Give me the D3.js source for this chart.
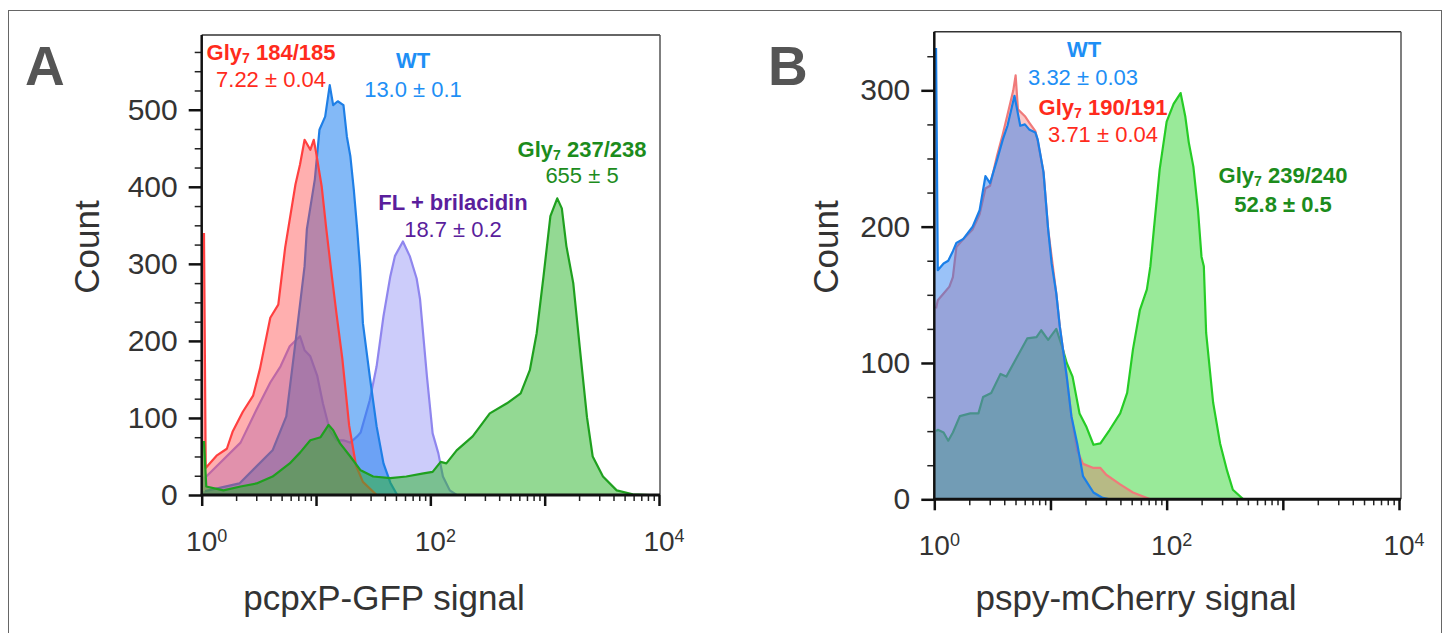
<!DOCTYPE html>
<html>
<head>
<meta charset="utf-8">
<script src="https://cdn.jsdelivr.net/npm/d3@7"></script>
<style>
  body { margin: 0; background: #fff; }
  svg { display: block; font-family: "Liberation Sans", Arial, Helvetica, sans-serif; }
</style>
</head>
<body>
<div class="container"></div>
<script>
// ---- data: log10(signal) and cell counts ----
const aGly184Log = [0.02, 0.035, 0.13, 0.22, 0.27, 0.36, 0.45, 0.51, 0.60, 0.67, 0.73, 0.82, 0.86, 0.90, 0.95, 0.98, 1.00, 1.05, 1.09, 1.14, 1.18, 1.23, 1.29, 1.35, 1.41, 1.53]
const aGly184Count = [340, 35, 51, 60, 82, 108, 129, 164, 230, 247, 321, 403, 429, 461, 448, 461, 445, 400, 345, 282, 234, 177, 90, 38, 17, 0]

const aWtLog = [0.03, 0.33, 0.62, 0.74, 0.83, 0.90, 0.92, 0.99, 1.03, 1.08, 1.12, 1.15, 1.19, 1.24, 1.27, 1.30, 1.33, 1.36, 1.385, 1.41, 1.47, 1.53, 1.59, 1.65, 1.71]
const aWtCount = [5, 15, 58, 102, 210, 297, 345, 410, 474, 491, 532, 506, 511, 506, 465, 440, 397, 345, 295, 223, 154, 89, 41, 16, 0]

const aBrilLog = [0.04, 0.34, 0.48, 0.60, 0.69, 0.77, 0.86, 0.90, 0.95, 1.01, 1.06, 1.12, 1.18, 1.24, 1.30, 1.36, 1.39, 1.47, 1.53, 1.59, 1.65, 1.69, 1.76, 1.82, 1.88, 1.91, 1.97, 2.02, 2.07, 2.11, 2.17, 2.23]
const aBrilCount = [24, 68, 111, 146, 167, 193, 206, 188, 180, 155, 119, 84, 71, 71, 68, 76, 81, 123, 167, 232, 284, 310, 329, 310, 281, 254, 154, 80, 54, 24, 6, 0]

const aGly237Log = [0.02, 0.04, 0.19, 0.34, 0.48, 0.62, 0.77, 0.86, 0.95, 1.04, 1.11, 1.15, 1.21, 1.30, 1.39, 1.50, 1.65, 1.79, 1.94, 2.02, 2.09, 2.14, 2.23, 2.37, 2.52, 2.67, 2.79, 2.87, 2.93, 2.99, 3.05, 3.11, 3.15, 3.19, 3.25, 3.31, 3.37, 3.42, 3.51, 3.63, 3.77, 3.92]
const aGly237Count = [70, 11, 6, 11, 15, 24, 41, 55, 71, 75, 91, 84, 67, 50, 32, 24, 22, 24, 28, 30, 43, 41, 58, 76, 106, 119, 132, 162, 210, 284, 362, 385, 372, 323, 275, 187, 101, 50, 24, 6, 1, 0]

const bWtLog = [0.015, 0.03, 0.08, 0.12, 0.16, 0.19, 0.25, 0.33, 0.39, 0.44, 0.48, 0.54, 0.59, 0.63, 0.69, 0.74, 0.78, 0.82, 0.87, 0.89, 0.94, 0.98, 1.01, 1.05, 1.08, 1.14, 1.18, 1.23, 1.28, 1.37, 1.45, 1.51]
const bWtCount = [331, 168, 173, 175, 182, 188, 191, 200, 212, 237, 232, 249, 264, 274, 296, 274, 275, 271, 269, 264, 240, 198, 173, 151, 127, 90, 61, 41, 17, 5, 1, 0]

const bGly190Log = [0.015, 0.03, 0.08, 0.13, 0.16, 0.19, 0.25, 0.33, 0.39, 0.44, 0.48, 0.54, 0.59, 0.63, 0.68, 0.70, 0.72, 0.78, 0.82, 0.87, 0.89, 0.94, 0.98, 1.05, 1.08, 1.14, 1.18, 1.23, 1.28, 1.37, 1.43, 1.48, 1.60, 1.71, 1.86]
const bGly190Count = [140, 146, 151, 156, 163, 185, 191, 198, 209, 228, 230, 252, 268, 282, 300, 311, 286, 281, 276, 270, 263, 240, 198, 151, 127, 90, 61, 36, 26, 23, 23, 18, 11, 5, 0]

const bGly239Log = [0.015, 0.03, 0.08, 0.12, 0.16, 0.22, 0.31, 0.38, 0.42, 0.49, 0.57, 0.62, 0.71, 0.80, 0.88, 0.92, 0.98, 1.05, 1.10, 1.14, 1.19, 1.25, 1.31, 1.37, 1.43, 1.51, 1.60, 1.66, 1.71, 1.77, 1.83, 1.86, 1.89, 1.94, 2.00, 2.06, 2.12, 2.16, 2.19, 2.23, 2.27, 2.30, 2.32, 2.34, 2.40, 2.46, 2.52, 2.57, 2.66]
const bGly239Count = [50, 51, 49, 43, 49, 61, 63, 63, 75, 78, 92, 90, 104, 118, 119, 124, 117, 125, 112, 100, 90, 63, 53, 40, 41, 51, 63, 78, 110, 139, 154, 171, 198, 242, 277, 290, 298, 281, 262, 244, 212, 178, 171, 122, 71, 41, 21, 7, 0]

const yTicksA = [0, 100, 200, 300, 400, 500]
const yTicksB = [0, 100, 200, 300]
const xTickExps = [0, 2, 4]

// ---- page ----
let width = 1447
let height = 633
let font = '"Liberation Sans", Arial, Helvetica, sans-serif'

let svg = d3.select('.container')
    .append('svg')
    .attr('width', width)
    .attr('height', height)

// outer figure frame
svg.append('rect')
    .attr('x', 8.5).attr('y', 10.5)
    .attr('width', 1433).attr('height', 700)
    .attr('fill', 'none').attr('stroke', '#666').attr('stroke-width', 1)

const red = '#ff2b1c', blue = '#1e8ff5', purple = '#5a1e9c', green = '#1c8c1c'

let panels = [
    {
        id: 'A', left: 201.7, right: 659, boxRight: 660, top: 35, bottom: 495, yMax: 597,
        yTicks: yTicksA, letterX: 25, countX: 99, titleX: 384,
        title: 'pcpxP-GFP signal',
        series: [
            { log: aBrilLog, count: aBrilCount, fill: '#9a9af5', alpha: 0.5, stroke: '#8f86ee' },
            { log: aWtLog, count: aWtCount, fill: '#1e80f0', alpha: 0.55, stroke: '#1f7fe6' },
            { log: aGly184Log, count: aGly184Count, fill: '#ff4040', alpha: 0.42, stroke: '#ff4040' },
            { log: aGly237Log, count: aGly237Count, fill: '#28b428', alpha: 0.5, stroke: '#1fa01f' }
        ],
        labels: [
            { sub: true, text: ['Gly', '7', ' 184/185'], bold: true, color: red, x: 271, y: 60 },
            { text: ['7.22 ± 0.04'], color: red, x: 271, y: 87 },
            { text: ['WT'], bold: true, color: blue, x: 413, y: 68 },
            { text: ['13.0 ± 0.1'], color: blue, x: 413, y: 97 },
            { text: ['FL + brilacidin'], bold: true, color: purple, x: 453, y: 210 },
            { text: ['18.7 ± 0.2'], color: purple, x: 453, y: 237 },
            { sub: true, text: ['Gly', '7', ' 237/238'], bold: true, color: green, x: 582, y: 157 },
            { text: ['655 ± 5'], color: green, x: 582, y: 183 }
        ]
    },
    {
        id: 'B', left: 934.3, right: 1399, boxRight: 1401, top: 31.7, bottom: 499.3, yMax: 343,
        yTicks: yTicksB, letterX: 768, countX: 838, titleX: 1136,
        title: 'pspy-mCherry signal',
        series: [
            { log: bGly239Log, count: bGly239Count, fill: '#33d633', alpha: 0.5, stroke: '#26cc26' },
            { log: bGly190Log, count: bGly190Count, fill: '#f06060', alpha: 0.35, stroke: '#f07a7a' },
            { log: bWtLog, count: bWtCount, fill: '#1e78f0', alpha: 0.45, stroke: '#1a7fe8' }
        ],
        labels: [
            { text: ['WT'], bold: true, color: blue, x: 1084, y: 57 },
            { text: ['3.32 ± 0.03'], color: blue, x: 1083, y: 85 },
            { sub: true, text: ['Gly', '7', ' 190/191'], bold: true, color: red, x: 1103, y: 115 },
            { text: ['3.71 ± 0.04'], color: red, x: 1103, y: 142 },
            { sub: true, text: ['Gly', '7', ' 239/240'], bold: true, color: green, x: 1283, y: 183 },
            { text: ['52.8 ± 0.5'], bold: true, color: green, x: 1283, y: 212 }
        ]
    }
]

function drawPanel(p) {
    let x = d3.scaleLog().domain([1, 1e4]).range([p.left, p.right])
    let y = d3.scaleLinear().domain([0, p.yMax]).range([p.bottom, p.top])
    let g = svg.append('g').attr('class', 'panel-' + p.id)

    g.append('clipPath').attr('id', 'clip' + p.id)
        .append('rect')
        .attr('x', p.left).attr('y', p.top)
        .attr('width', p.boxRight - p.left).attr('height', p.bottom - p.top)

    let area = d3.area().x(d => x(d.x)).y0(y(0)).y1(d => y(d.y))
    let line = d3.line().x(d => x(d.x)).y(d => y(d.y))

    let plot = g.append('g').attr('clip-path', `url(#clip${p.id})`)
    p.series.forEach(s => {
        let data = s.log.map((l, i) => ({ x: Math.pow(10, l), y: s.count[i] }))
        // fill reaches back to the axis at the first bin's height
        let fillData = [{ x: 1, y: data[0].y }].concat(data)
        plot.append('path').datum(fillData)
            .attr('d', area)
            .attr('fill', s.fill)
            .attr('fill-opacity', s.alpha)
        plot.append('path').datum(data)
            .attr('d', line)
            .attr('fill', 'none')
            .attr('stroke', s.stroke)
            .attr('stroke-width', 2.2)
            .attr('stroke-linejoin', 'round')
    })

    // box: thin top/right, heavy left/bottom
    g.append('line').attr('x1', p.left).attr('x2', p.boxRight).attr('y1', p.top).attr('y2', p.top)
        .attr('stroke', '#333').attr('stroke-width', 1.5)
    g.append('line').attr('x1', p.boxRight).attr('x2', p.boxRight).attr('y1', p.top).attr('y2', p.bottom)
        .attr('stroke', '#555').attr('stroke-width', 1.5)

    // x axis ticks
    let decades = d3.range(0, 5).map(e => Math.pow(10, e))
    let minors = []
    decades.slice(0, 4).forEach(d => {
        for (let k = 2; k < 10; k++) minors.push(d * k)
    })
    g.append('g')
        .attr('transform', `translate(0,${p.bottom})`)
        .call(d3.axisBottom(x).tickValues(minors).tickSize(6).tickFormat(''))
        .call(a => a.select('.domain').remove())
        .call(a => a.selectAll('line').attr('stroke', '#222').attr('stroke-width', 1.5))
    g.append('g')
        .attr('transform', `translate(0,${p.bottom})`)
        .call(d3.axisBottom(x).tickValues(decades).tickSize(11).tickFormat(''))
        .call(a => a.select('.domain').remove())
        .call(a => a.selectAll('line').attr('stroke', '#111').attr('stroke-width', 2.5))

    // x labels 10^n
    xTickExps.forEach(e => {
        let t = g.append('text')
            .attr('y', p.bottom + 56)
            .attr('fill', '#333')
            .attr('font-size', 28)
        t.append('tspan').text('10')
        let w = t.node().getComputedTextLength()
        t.attr('x', x(Math.pow(10, e)) - w / 2)
        t.append('tspan').attr('font-size', 18).attr('dy', -9).text(e)
    })

    // y axis
    let minorY = d3.range(25, p.yMax, 25).filter(v => v % 100 !== 0)
    g.append('g')
        .attr('transform', `translate(${p.left},0)`)
        .call(d3.axisLeft(y).tickValues(minorY).tickSize(7).tickFormat(''))
        .call(a => a.select('.domain').remove())
        .call(a => a.selectAll('line').attr('stroke', '#222').attr('stroke-width', 1.5))
    g.append('g')
        .attr('transform', `translate(${p.left},0)`)
        .call(d3.axisLeft(y).tickValues(p.yTicks).tickSize(13).tickPadding(11))
        .call(a => a.select('.domain').remove())
        .call(a => a.selectAll('line').attr('stroke', '#111').attr('stroke-width', 2.5))
        .call(a => a.selectAll('text')
            .attr('font-size', 30).attr('font-family', font).attr('fill', '#333'))

    // heavy axis lines
    g.append('line').attr('x1', p.left).attr('x2', p.left).attr('y1', p.top).attr('y2', p.bottom + 1)
        .attr('stroke', '#111').attr('stroke-width', 2.5)
    g.append('line').attr('x1', p.left - 1).attr('x2', p.boxRight).attr('y1', p.bottom).attr('y2', p.bottom)
        .attr('stroke', '#111').attr('stroke-width', 3)

    // axis titles
    g.append('text')
        .attr('transform', `translate(${p.countX},247) rotate(-90)`)
        .attr('text-anchor', 'middle')
        .attr('font-size', 35).attr('fill', '#333')
        .text('Count')
    g.append('text')
        .attr('x', p.titleX).attr('y', 610)
        .attr('text-anchor', 'middle')
        .attr('font-size', 35).attr('fill', '#333')
        .text(p.title)

    // panel letter
    g.append('text')
        .attr('x', p.letterX).attr('y', 85)
        .attr('font-size', 55).attr('font-weight', 'bold').attr('fill', '#555')
        .text(p.id)

    // annotations
    p.labels.forEach(l => {
        let t = g.append('text')
            .attr('x', l.x).attr('y', l.y)
            .attr('text-anchor', 'middle')
            .attr('font-size', 22)
            .attr('font-weight', l.bold ? 'bold' : 'normal')
            .attr('fill', l.color)
        if (l.sub) {
            t.append('tspan').text(l.text[0])
            t.append('tspan').attr('font-size', 14).attr('dy', 3).text(l.text[1])
            t.append('tspan').attr('dy', -3).text(l.text[2])
        } else {
            t.text(l.text[0])
        }
    })
}

panels.forEach(drawPanel)
</script>
</body>
</html>
